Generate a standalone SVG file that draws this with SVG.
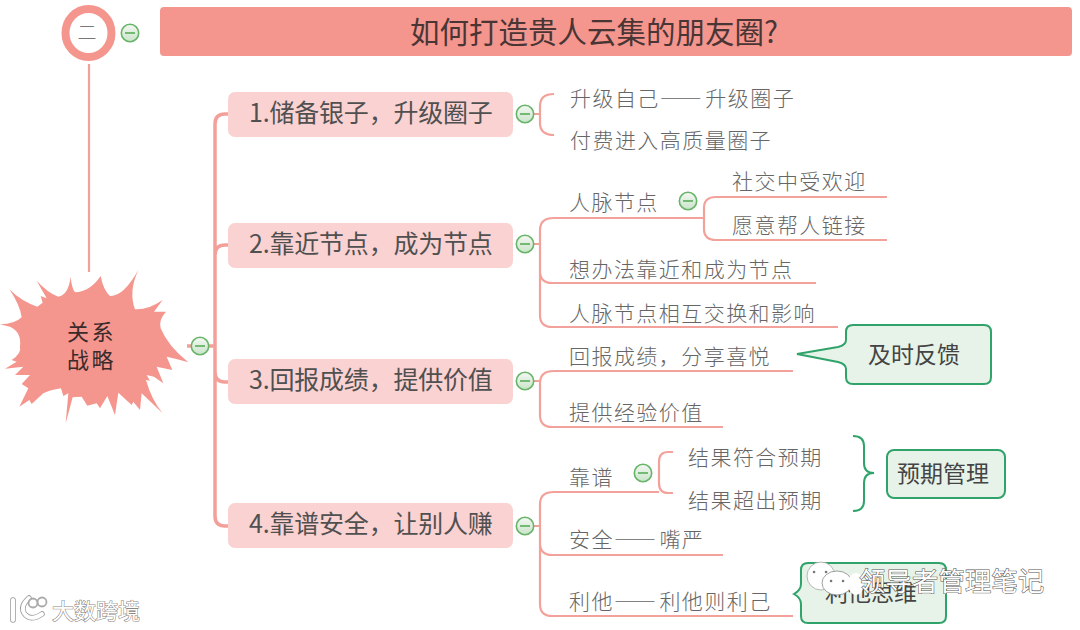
<svg xmlns="http://www.w3.org/2000/svg" width="1080" height="630" viewBox="0 0 1080 630">
<style>
text{font-family:"Noto Sans CJK SC","Noto Sans",sans-serif}
.l{fill:none;stroke:#f3a29b;stroke-width:2.2}
.t{fill:none;stroke:#f4a09a;stroke-width:3.5}
.m{font-size:25px;fill:#505050;letter-spacing:-.2px}
.s{font-size:21px;letter-spacing:1.45px;fill:#666;font-weight:300}
.d{font-feature-settings:"fwid";letter-spacing:1.5px}
.c{fill:#e7f3e9;stroke:#2fa36a;stroke-width:2}
.ct{font-size:23px;fill:#444;text-anchor:middle}
.b{fill:#fad2d2}
.wm{fill:#fff;stroke:#555;stroke-width:1.1;paint-order:stroke}
</style>
<defs>
<linearGradient id="g" x1="0" y1="0" x2="0" y2="1"><stop offset="0" stop-color="#f4f8f4"/><stop offset="1" stop-color="#c9e4c9"/></linearGradient>
<g id="btn"><circle r="8.7" fill="url(#g)" stroke="#68b468" stroke-width="1.6"/><path d="M-5,0H5" stroke="#68b468" stroke-width="1.8"/></g>
</defs>
<rect width="1080" height="630" fill="#fff"/>
<g id="connectors">
<path class="l" d="M89,64V272"/>
<path class="t" d="M187,346H215M228,114H225Q215,114 215,124V516Q215,526 225,526H228M215,255Q215,245 225,245H228M215,372Q215,382 225,382H228"/>
<path class="l" d="M534,114H540M554,94Q540,94 540,106V123Q540,135 554,135"/>
<path class="l" d="M534,244H540M887,197H716Q704,197 704,208V229Q704,240 716,240H887M704,218H554Q540,218 540,230V271Q540,283 552,283H816M540,271V315Q540,327 552,327H838"/>
<path class="l" d="M534,381H540M793,371H554Q540,371 540,383V415Q540,427 552,427H723"/>
<path class="l" d="M534,526H540M673,452H668Q659,452 659,462V483Q659,493 668,493H673M659,492H554Q540,492 540,504V543Q540,555 552,555H723M540,543V604Q540,616 552,616H793"/>
<path d="M853,436Q864,436 864,446V463Q864,473 874,473Q864,473 864,483V501Q864,511 853,511" fill="none" stroke="#2fa36a" stroke-width="2"/>
</g>
<g id="n-num"><ellipse cx="88.500" cy="33" rx="23" ry="24" fill="#fff" stroke="#f4968e" stroke-width="8"/><text x="87" y="40" font-size="19" fill="#777" text-anchor="middle" font-weight="300">二</text><use href="#btn" x="130" y="33"/></g>
<g id="n-title"><rect x="160" y="7" width="912" height="49" rx="4" fill="#f4968e"/><text x="410" y="43" font-size="29.500" fill="#4a3535">如何打造贵人云集的朋友圈?</text></g>
<g id="n-root">
<path transform="translate(0,260) scale(.3333)" fill="#f4968e" d="M0,193Q45,192 65,172Q60,135 28,88Q65,125 112,140L128,128L122,108L140,115L110,62Q145,100 175,110Q205,105 212,50Q215,85 225,97Q270,95 302,48Q310,90 330,108Q370,110 415,30Q385,95 405,148Q445,150 488,120L462,155L498,155Q475,180 482,205Q505,260 565,307Q525,295 500,290L517,330L470,320L490,370L462,350L440,345L450,362L438,360Q455,420 488,460L425,400L420,450L400,425L395,435L355,398L345,465L322,408L300,445L290,430L262,437L245,410Q225,410 218,412L197,490L205,400L190,408L183,385Q150,390 130,400L95,432L88,420L58,440L85,385L65,372L90,345L45,345L70,320L15,326L50,305L35,300Q65,280 60,260Q65,215 30,200Z"/>
<text x="67" y="340" font-size="22" letter-spacing="2.500" fill="#3a2a2a">关系</text>
<text x="67" y="368" font-size="22" letter-spacing="2.500" fill="#3a2a2a">战略</text>
<use href="#btn" x="200" y="346"/>
</g>
<g id="n1"><rect class="b" x="228" y="92" width="285" height="45" rx="7"/><text class="m" x="249" y="122">1.储备银子，升级圈子</text><use href="#btn" x="525" y="114"/></g>
<g id="n2"><rect class="b" x="228" y="223" width="285" height="45" rx="7"/><text class="m" x="249" y="253">2.靠近节点，成为节点</text><use href="#btn" x="525" y="244"/></g>
<g id="n3"><rect class="b" x="228" y="359" width="285" height="45" rx="7"/><text class="m" x="249" y="389">3.回报成绩，提供价值</text><use href="#btn" x="525" y="381"/></g>
<g id="n4"><rect class="b" x="228" y="503" width="285" height="45" rx="7"/><text class="m" x="249" y="533">4.靠谱安全，让别人赚</text><use href="#btn" x="525" y="526"/></g>
<g id="n1a"><text class="s" x="570" y="106">升级自己<tspan class="d">——</tspan><tspan dx="2">升级圈子</tspan></text></g>
<g id="n1b"><text class="s" x="570" y="148">付费进入高质量圈子</text></g>
<g id="n2a"><text class="s" x="569" y="210">人脉节点</text><use href="#btn" x="688" y="201"/></g>
<g id="n2a1"><text class="s" x="732" y="189">社交中受欢迎</text></g>
<g id="n2a2"><text class="s" x="732" y="233">愿意帮人链接</text></g>
<g id="n2b"><text class="s" x="569" y="277">想办法靠近和成为节点</text></g>
<g id="n2c"><text class="s" x="569" y="321">人脉节点相互交换和影响</text></g>
<g id="n3a"><text class="s" x="569" y="364">回报成绩，分享喜悦</text></g>
<g id="n3b"><text class="s" x="569" y="420">提供经验价值</text></g>
<g id="n4a"><text class="s" x="569" y="485">靠谱</text><use href="#btn" x="643" y="473"/></g>
<g id="n4a1"><text class="s" x="688" y="465">结果符合预期</text></g>
<g id="n4a2"><text class="s" x="688" y="508">结果超出预期</text></g>
<g id="n4b"><text class="s" x="569" y="547">安全<tspan class="d">——</tspan><tspan dx="2">嘴严</tspan></text></g>
<g id="n4c"><text class="s" x="569" y="609">利他<tspan class="d">——</tspan><tspan dx="2">利他则利己</tspan></text></g>
<g id="c1"><path class="c" d="M853,325H984Q991,325 991,332V377Q991,384 984,384H853Q846,384 846,377V369Q846,364 838,362L797,354L838,347Q846,345 846,340V332Q846,325 853,325Z"/><text class="ct" x="914" y="363">及时反馈</text></g>
<g id="c2"><rect class="c" x="887" y="450" width="118" height="48" rx="7"/><text class="ct" x="943" y="482">预期管理</text></g>
<g id="c3"><path class="c" d="M808,563H939Q946,563 946,570V616Q946,623 939,623H808Q801,623 801,616V604Q801,598 794,594Q801,590 801,584V570Q801,563 808,563Z"/><text class="ct" x="871" y="601">利他思维</text></g>
<g id="watermark-1">
<ellipse cx="821" cy="576" rx="14" ry="14" fill="#fff" stroke="#999" stroke-width=".7"/>
<ellipse cx="837" cy="583" rx="15" ry="12" fill="#fff" stroke="#777" stroke-width=".7"/>
<ellipse cx="856" cy="584" rx="8" ry="11" fill="#fff"/>
<path d="M814,572h.1M826,572h.1M831,581h.1M843,581h.1" stroke="#777" stroke-width="2.500" stroke-linecap="round"/>
<text class="wm" x="859" y="591" font-size="26.200" letter-spacing=".3">领导者管理笔记</text>
</g>
<g id="watermark-2">
<path d="M13,600V620M29,598Q20,606 24,613Q30,622 42,614" fill="none" stroke="#999" stroke-width="5.500" stroke-linecap="round"/>
<path d="M13,600V620M29,598Q20,606 24,613Q30,622 42,614" fill="none" stroke="#fff" stroke-width="4" stroke-linecap="round"/>
<circle cx="33" cy="603" r="4.500" fill="none" stroke="#aaa" stroke-width="1.800"/><circle cx="42" cy="602" r="4.500" fill="none" stroke="#aaa" stroke-width="1.800"/>
<text class="wm" x="52" y="619" font-size="22" style="stroke:#888">大数跨境</text>
</g>
</svg>
